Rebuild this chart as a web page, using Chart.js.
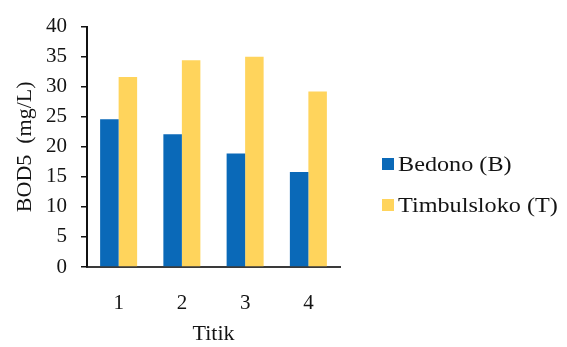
<!DOCTYPE html>
<html>
<head>
<meta charset="utf-8">
<script src="https://cdn.jsdelivr.net/npm/chart.js@4/dist/chart.umd.min.js"></script>
<style>
  html, body { margin: 0; padding: 0; background: #ffffff; }
  #wrap { width: 567px; height: 347px; }
</style>
</head>
<body>
<div id="wrap"><canvas id="c" width="567" height="347"></canvas></div>
<script>
// Sampling points
const titik = ['1', '2', '3', '4'];
// BOD5 per site (mg/L)
const bedono = [24.6, 22.1, 18.9, 15.8];
const timbulsloko = [31.6, 34.4, 35.0, 29.2];
const seriesNames = ['Bedono (B)', 'Timbulsloko (T)'];
const seriesColors = ['#0a69b8', '#ffd45c'];
const yTicks = [0, 5, 10, 15, 20, 25, 30, 35, 40];

const serif = "'Liberation Serif', 'Times New Roman', serif";

// Legend drawn to the right of the plot, with slightly widened lettering
const sideLegend = {
  id: 'sideLegend',
  afterDraw(chart) {
    const ctx = chart.ctx;
    const rows = [164, 205];
    chart.data.datasets.forEach((ds, i) => {
      const y = rows[i];
      ctx.save();
      ctx.fillStyle = ds.backgroundColor;
      ctx.fillRect(382, y - 6, 12, 12);
      ctx.translate(398, y + 1);
      ctx.scale(1.1, 1);
      ctx.font = '22px ' + serif;
      ctx.textBaseline = 'middle';
      ctx.textAlign = 'left';
      ctx.fillStyle = '#141414';
      ctx.fillText(ds.label, 0, 0);
      ctx.restore();
    });
  }
};

new Chart(document.getElementById('c'), {
  type: 'bar',
  data: {
    labels: titik,
    datasets: [
      { label: seriesNames[0], data: bedono, backgroundColor: seriesColors[0] },
      { label: seriesNames[1], data: timbulsloko, backgroundColor: seriesColors[1] }
    ]
  },
  options: {
    responsive: false,
    animation: false,
    devicePixelRatio: 1,
    layout: { padding: { top: 18, right: 227, left: 0, bottom: 0 } },
    datasets: { bar: { categoryPercentage: 0.585, barPercentage: 1.0 } },
    plugins: {
      legend: { display: false },
      tooltip: { enabled: false }
    },
    scales: {
      x: {
        z: 1,
        afterFit(scale) { scale.height = 80; },
        grid: { display: false, drawTicks: false },
        border: { display: true, color: '#3a3a3a', width: 2 },
        ticks: {
          padding: 24,
          color: '#141414',
          font: { family: serif, size: 21 }
        },
        title: {
          display: true,
          text: 'Titik',
          color: '#141414',
          font: { family: serif, size: 22 },
          padding: { top: 0, bottom: 0 }
        }
      },
      y: {
        min: 0,
        max: 40,
        afterFit(scale) { scale.width = 87; },
        afterBuildTicks(scale) { scale.ticks = yTicks.map(v => ({ value: v })); },
        grid: {
          drawOnChartArea: false,
          drawTicks: true,
          tickLength: 6,
          color: '#111111',
          lineWidth: 1.5
        },
        border: { display: true, color: '#111111', width: 2 },
        ticks: {
          padding: 14,
          color: '#141414',
          font: { family: serif, size: 21 }
        },
        title: {
          display: true,
          text: 'BOD5  (mg/L)',
          color: '#141414',
          font: { family: serif, size: 22 },
          padding: { top: 12, bottom: 0 }
        }
      }
    }
  },
  plugins: [sideLegend]
});
</script>
</body>
</html>
